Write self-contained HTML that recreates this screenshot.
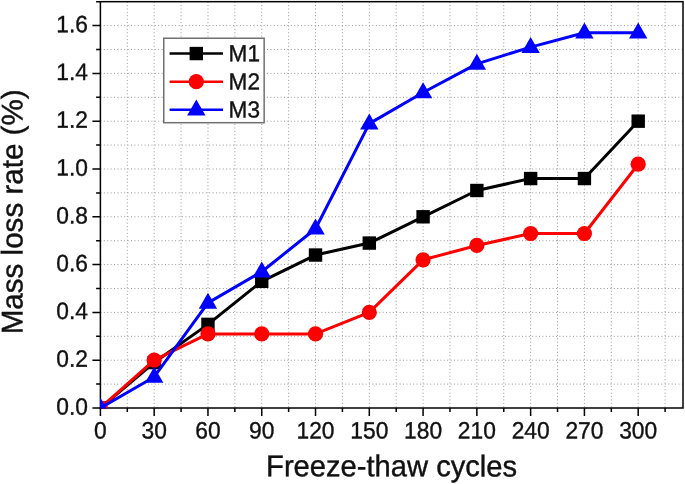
<!DOCTYPE html>
<html><head><meta charset="utf-8"><title>Mass loss rate</title>
<style>html,body{margin:0;padding:0;background:#fff;}body{width:685px;height:484px;overflow:hidden;font-family:"Liberation Sans",sans-serif;}</style>
</head><body>
<svg width="685" height="484" viewBox="0 0 685 484" style="display:block;will-change:transform">
<rect width="685" height="484" fill="#fff"/>
<path d="M127.29 1.68V408.00M154.18 1.68V408.00M181.07 1.68V408.00M207.96 1.68V408.00M234.85 1.68V408.00M261.74 1.68V408.00M288.63 1.68V408.00M315.52 1.68V408.00M342.41 1.68V408.00M369.30 1.68V408.00M396.19 1.68V408.00M423.08 1.68V408.00M449.97 1.68V408.00M476.86 1.68V408.00M503.75 1.68V408.00M530.64 1.68V408.00M557.53 1.68V408.00M584.42 1.68V408.00M611.31 1.68V408.00M638.20 1.68V408.00M665.09 1.68V408.00M100.40 384.10H683.00M100.40 360.20H683.00M100.40 336.30H683.00M100.40 312.40H683.00M100.40 288.50H683.00M100.40 264.59H683.00M100.40 240.69H683.00M100.40 216.79H683.00M100.40 192.89H683.00M100.40 168.99H683.00M100.40 145.09H683.00M100.40 121.19H683.00M100.40 97.29H683.00M100.40 73.39H683.00M100.40 49.49H683.00M100.40 25.58H683.00" stroke="#999" stroke-width="1" stroke-dasharray="1 2.4" fill="none"/>
<rect x="100.4" y="1.68" width="582.6" height="406.32" fill="none" stroke="#000" stroke-width="1.5"/>
<defs><clipPath id="c"><rect x="100.00" y="1.68" width="583.00" height="406.92"/></clipPath></defs>
<g clip-path="url(#c)">
<polyline points="100.40,408.00 154.18,362.59 207.96,324.35 261.74,281.32 315.52,255.03 369.30,243.08 423.08,216.79 476.86,190.50 530.64,178.55 584.42,178.55 638.20,121.19" fill="none" stroke="#000" stroke-width="3" stroke-linejoin="round"/>
<rect x="93.70" y="401.30" width="13.4" height="13.4" fill="#000"/>
<rect x="147.48" y="355.89" width="13.4" height="13.4" fill="#000"/>
<rect x="201.26" y="317.65" width="13.4" height="13.4" fill="#000"/>
<rect x="255.04" y="274.62" width="13.4" height="13.4" fill="#000"/>
<rect x="308.82" y="248.33" width="13.4" height="13.4" fill="#000"/>
<rect x="362.60" y="236.38" width="13.4" height="13.4" fill="#000"/>
<rect x="416.38" y="210.09" width="13.4" height="13.4" fill="#000"/>
<rect x="470.16" y="183.80" width="13.4" height="13.4" fill="#000"/>
<rect x="523.94" y="171.85" width="13.4" height="13.4" fill="#000"/>
<rect x="577.72" y="171.85" width="13.4" height="13.4" fill="#000"/>
<rect x="631.50" y="114.49" width="13.4" height="13.4" fill="#000"/>
<polyline points="100.40,408.00 154.18,360.20 207.96,333.91 261.74,333.91 315.52,333.91 369.30,312.40 423.08,259.81 476.86,245.47 530.64,233.52 584.42,233.52 638.20,164.21" fill="none" stroke="#ff0000" stroke-width="3" stroke-linejoin="round"/>
<circle cx="100.40" cy="408.00" r="7.6" fill="#ff0000"/>
<circle cx="154.18" cy="360.20" r="7.6" fill="#ff0000"/>
<circle cx="207.96" cy="333.91" r="7.6" fill="#ff0000"/>
<circle cx="261.74" cy="333.91" r="7.6" fill="#ff0000"/>
<circle cx="315.52" cy="333.91" r="7.6" fill="#ff0000"/>
<circle cx="369.30" cy="312.40" r="7.6" fill="#ff0000"/>
<circle cx="423.08" cy="259.81" r="7.6" fill="#ff0000"/>
<circle cx="476.86" cy="245.47" r="7.6" fill="#ff0000"/>
<circle cx="530.64" cy="233.52" r="7.6" fill="#ff0000"/>
<circle cx="584.42" cy="233.52" r="7.6" fill="#ff0000"/>
<circle cx="638.20" cy="164.21" r="7.6" fill="#ff0000"/>
<polyline points="100.40,408.00 154.18,376.93 207.96,302.84 261.74,271.76 315.52,228.74 369.30,123.58 423.08,92.51 476.86,63.83 530.64,47.09 584.42,32.75 638.20,32.75" fill="none" stroke="#0000ff" stroke-width="3" stroke-linejoin="round"/>
<path d="M100.40 397.80L109.60 413.80H91.20Z" fill="#0000ff"/>
<path d="M154.18 366.73L163.38 382.73H144.98Z" fill="#0000ff"/>
<path d="M207.96 292.64L217.16 308.64H198.76Z" fill="#0000ff"/>
<path d="M261.74 261.56L270.94 277.56H252.54Z" fill="#0000ff"/>
<path d="M315.52 218.54L324.72 234.54H306.32Z" fill="#0000ff"/>
<path d="M369.30 113.38L378.50 129.38H360.10Z" fill="#0000ff"/>
<path d="M423.08 82.31L432.28 98.31H413.88Z" fill="#0000ff"/>
<path d="M476.86 53.63L486.06 69.63H467.66Z" fill="#0000ff"/>
<path d="M530.64 36.89L539.84 52.89H521.44Z" fill="#0000ff"/>
<path d="M584.42 22.55L593.62 38.55H575.22Z" fill="#0000ff"/>
<path d="M638.20 22.55L647.40 38.55H629.00Z" fill="#0000ff"/>
</g>
<path d="M100.40 408.00v8.0M127.29 408.00v4.0M154.18 408.00v8.0M181.07 408.00v4.0M207.96 408.00v8.0M234.85 408.00v4.0M261.74 408.00v8.0M288.63 408.00v4.0M315.52 408.00v8.0M342.41 408.00v4.0M369.30 408.00v8.0M396.19 408.00v4.0M423.08 408.00v8.0M449.97 408.00v4.0M476.86 408.00v8.0M503.75 408.00v4.0M530.64 408.00v8.0M557.53 408.00v4.0M584.42 408.00v8.0M611.31 408.00v4.0M638.20 408.00v8.0M665.09 408.00v4.0M100.40 408.00h-8.0M100.40 384.10h-4.3M100.40 360.20h-8.0M100.40 336.30h-4.3M100.40 312.40h-8.0M100.40 288.50h-4.3M100.40 264.59h-8.0M100.40 240.69h-4.3M100.40 216.79h-8.0M100.40 192.89h-4.3M100.40 168.99h-8.0M100.40 145.09h-4.3M100.40 121.19h-8.0M100.40 97.29h-4.3M100.40 73.39h-8.0M100.40 49.49h-4.3M100.40 25.58h-8.0M100.40 1.68h-4.3" stroke="#000" stroke-width="1.5" fill="none"/>
<g font-family="Liberation Sans, sans-serif" font-size="22.8" fill="#111" stroke="#111" stroke-width="0.35">
<text transform="translate(100.40 438.4) rotate(0.05) scale(1 1.04)" text-anchor="middle">0</text>
<text transform="translate(154.18 438.4) rotate(0.05) scale(1 1.04)" text-anchor="middle">30</text>
<text transform="translate(207.96 438.4) rotate(0.05) scale(1 1.04)" text-anchor="middle">60</text>
<text transform="translate(261.74 438.4) rotate(0.05) scale(1 1.04)" text-anchor="middle">90</text>
<text transform="translate(315.52 438.4) rotate(0.05) scale(1 1.04)" text-anchor="middle">120</text>
<text transform="translate(369.30 438.4) rotate(0.05) scale(1 1.04)" text-anchor="middle">150</text>
<text transform="translate(423.08 438.4) rotate(0.05) scale(1 1.04)" text-anchor="middle">180</text>
<text transform="translate(476.86 438.4) rotate(0.05) scale(1 1.04)" text-anchor="middle">210</text>
<text transform="translate(530.64 438.4) rotate(0.05) scale(1 1.04)" text-anchor="middle">240</text>
<text transform="translate(584.42 438.4) rotate(0.05) scale(1 1.04)" text-anchor="middle">270</text>
<text transform="translate(638.20 438.4) rotate(0.05) scale(1 1.04)" text-anchor="middle">300</text>
<text transform="translate(88.05 414.65) rotate(0.05) scale(1 1.04)" text-anchor="end">0.0</text>
<text transform="translate(88.05 366.85) rotate(0.05) scale(1 1.04)" text-anchor="end">0.2</text>
<text transform="translate(88.05 319.05) rotate(0.05) scale(1 1.04)" text-anchor="end">0.4</text>
<text transform="translate(88.05 271.24) rotate(0.05) scale(1 1.04)" text-anchor="end">0.6</text>
<text transform="translate(88.05 223.44) rotate(0.05) scale(1 1.04)" text-anchor="end">0.8</text>
<text transform="translate(88.05 175.64) rotate(0.05) scale(1 1.04)" text-anchor="end">1.0</text>
<text transform="translate(88.05 127.84) rotate(0.05) scale(1 1.04)" text-anchor="end">1.2</text>
<text transform="translate(88.05 80.04) rotate(0.05) scale(1 1.04)" text-anchor="end">1.4</text>
<text transform="translate(88.05 32.23) rotate(0.05) scale(1 1.04)" text-anchor="end">1.6</text>
</g>
<text font-family="Liberation Sans, sans-serif" font-size="29.15" fill="#111" stroke="#111" stroke-width="0.4" transform="translate(391.6 476.3) rotate(0.05) scale(1 1.03)" text-anchor="middle">Freeze-thaw cycles</text>
<text font-family="Liberation Sans, sans-serif" font-size="29.6" fill="#111" stroke="#111" stroke-width="0.4" transform="translate(22.5 211.85) rotate(-90.05) scale(1 1.012)" text-anchor="middle">Mass loss rate (%)</text>
<rect x="163.75" y="38.25" width="100.4" height="84.45" fill="#fff" stroke="#707070" stroke-width="1.5"/>
<path d="M169.6 53.55H223.0" stroke="#000" stroke-width="2.5"/>
<path d="M169.6 81.65H223.0" stroke="#ff0000" stroke-width="2.5"/>
<path d="M169.6 109.75H223.0" stroke="#0000ff" stroke-width="2.5"/>
<rect x="189.60" y="46.85" width="13.4" height="13.4" fill="#000"/>
<circle cx="196.30" cy="81.65" r="7.6" fill="#ff0000"/>
<path d="M196.30 99.55L205.50 115.55H187.10Z" fill="#0000ff"/>
<g font-family="Liberation Sans, sans-serif" font-size="22.6" fill="#111" stroke="#111" stroke-width="0.35">
<text transform="translate(228.6 61.30) rotate(0.05) scale(1 1.03)">M1</text>
<text transform="translate(228.6 89.40) rotate(0.05) scale(1 1.03)">M2</text>
<text transform="translate(228.6 117.50) rotate(0.05) scale(1 1.03)">M3</text>
</g>
</svg>
</body></html>
